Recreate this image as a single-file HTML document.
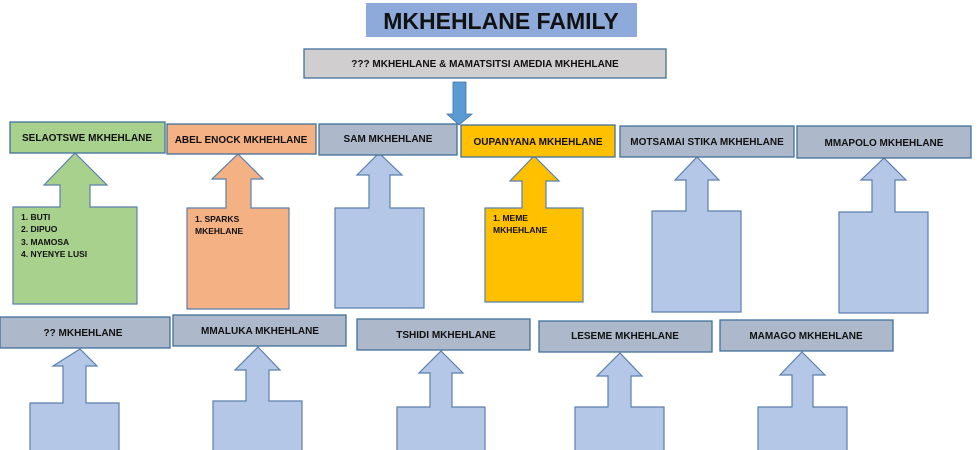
<!DOCTYPE html>
<html><head><meta charset="utf-8"><style>
html,body{margin:0;padding:0;background:#fff;}
svg{display:block;font-family:"Liberation Sans",Arial,sans-serif;font-weight:bold;}
.b{stroke:#41719c;stroke-width:1.3;}
.g{fill:#adb9ca;}
.a{fill:#b4c7e7;stroke:#5b7fae;stroke-width:1.2;}
text{fill:#111;}
.t{font-size:10px;text-anchor:middle;}
.s{font-size:8.5px;}
</style></head><body>
<svg width="980" height="450" viewBox="0 0 980 450">
<!-- title -->
<rect x="366" y="3" width="271" height="34" fill="#8eaadb"/>
<text x="501" y="29" font-size="23" text-anchor="middle">MKHEHLANE FAMILY</text>
<!-- parent -->
<rect class="b" x="304" y="49" width="362" height="29" fill="#d0cece"/>
<text class="t" x="485" y="67">??? MKHEHLANE &amp; MAMATSITSI AMEDIA MKHEHLANE</text>
<!-- down arrow -->
<polygon points="453,82 466,82 466,114 472,114 459,125 447,114 453,114" fill="#5b9bd5" stroke="#41719c" stroke-width="0.8"/>

<!-- row 1 up arrows -->
<polygon class="a" style="fill:#a9d18e" points="75,153 107,185 90,185 90,207 137,207 137,304 13,304 13,207 60,207 60,185 44,185"/>
<polygon class="a" style="fill:#f4b183" points="238,154 263,179 251,179 251,208 289,208 289,309 187,309 187,208 226,208 226,179 212,179"/>
<polygon class="a" points="379,153 402,175 390,175 390,208 424,208 424,308 335,308 335,208 369,208 369,175 357,175"/>
<polygon class="a" style="fill:#ffc000" points="534,156 559,181 546,181 546,208 583,208 583,302 485,302 485,208 522,208 522,181 510,181"/>
<polygon class="a" points="697,157 719,180 708,180 708,211 741,211 741,312 652,312 652,211 686,211 686,180 675,180"/>
<polygon class="a" points="884,158 906,180 895,180 895,212 928,212 928,313 839,313 839,212 872,212 872,180 861,180"/>

<!-- row 1 boxes -->
<rect class="b" x="10" y="122" width="155" height="31" fill="#a9d18e"/>
<text class="t" x="87" y="141">SELAOTSWE MKHEHLANE</text>
<rect class="b" x="167" y="124" width="149" height="30" fill="#f4b183"/>
<text class="t" x="241" y="143">ABEL ENOCK MKHEHLANE</text>
<rect class="b g" x="319" y="124" width="138" height="31"/>
<text class="t" x="388" y="142">SAM MKHEHLANE</text>
<rect class="b" x="461" y="125" width="154" height="32" fill="#ffc000"/>
<text class="t" x="538" y="145">OUPANYANA MKHEHLANE</text>
<rect class="b g" x="620" y="126" width="174" height="31"/>
<text class="t" x="707" y="145">MOTSAMAI STIKA MKHEHLANE</text>
<rect class="b g" x="797" y="126" width="174" height="32"/>
<text class="t" x="884" y="146">MMAPOLO MKHEHLANE</text>

<!-- list texts -->
<text class="s" x="21" y="220">1. BUTI</text>
<text class="s" x="21" y="232">2. DIPUO</text>
<text class="s" x="21" y="245">3. MAMOSA</text>
<text class="s" x="21" y="257">4. NYENYE LUSI</text>
<text class="s" x="195" y="222">1. SPARKS</text>
<text class="s" x="195" y="234">MKEHLANE</text>
<text class="s" x="493" y="221">1. MEME</text>
<text class="s" x="493" y="233">MKHEHLANE</text>

<!-- row 2 arrows -->
<polygon class="a" points="80,349 97,366 86,366 86,403 119,403 119,452 30,452 30,403 63,403 63,366 53,366"/>
<polygon class="a" points="258,347 280,370 269,370 269,401 302,401 302,452 213,452 213,401 246,401 246,370 235,370"/>
<polygon class="a" points="441,351 463,373 452,373 452,407 485,407 485,452 397,452 397,407 430,407 430,373 419,373"/>
<polygon class="a" points="620,353 642,376 631,376 631,407 664,407 664,452 575,452 575,407 608,407 608,376 597,376"/>
<polygon class="a" points="802,352 825,375 813,375 813,407 847,407 847,452 758,452 758,407 792,407 792,375 780,375"/>

<!-- row 2 boxes -->
<rect class="b g" x="0" y="317" width="170" height="31"/>
<text class="t" x="83" y="336">?? MKHEHLANE</text>
<rect class="b g" x="173" y="315" width="173" height="31"/>
<text class="t" x="260" y="334">MMALUKA MKHEHLANE</text>
<rect class="b g" x="357" y="319" width="173" height="31"/>
<text class="t" x="446" y="338">TSHIDI MKHEHLANE</text>
<rect class="b g" x="539" y="321" width="173" height="31"/>
<text class="t" x="625" y="339">LESEME MKHEHLANE</text>
<rect class="b g" x="720" y="320" width="173" height="31"/>
<text class="t" x="806" y="339">MAMAGO MKHEHLANE</text>
</svg>
</body></html>
